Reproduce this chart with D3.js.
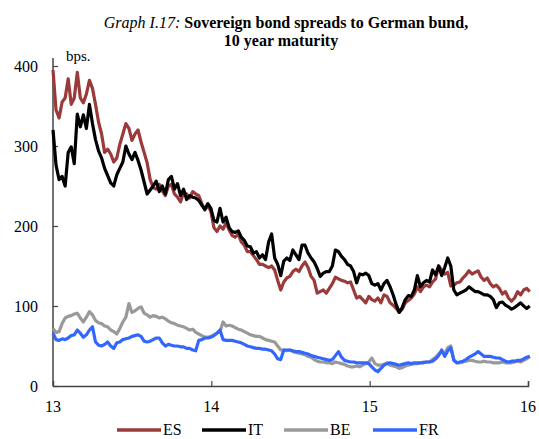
<!DOCTYPE html>
<html>
<head>
<meta charset="utf-8">
<script src="https://cdn.jsdelivr.net/npm/d3@7"></script>
<style>
    body { margin: 0; background: #fff; }
    svg { display: block; font-family: "Liberation Serif", "Times New Roman", serif; }
</style>
</head>
<body>
<div id="chart"></div>
<script>
// weekly observations, starting first week of 2013
const startDate = new Date(2013, 0, 1);

const seriesNames = ["ES", "IT", "BE", "FR"];
const seriesColors = ["#9b3a3a", "#000000", "#999999", "#3366ff"];

const esValues = [
    395, 345, 335, 355, 360, 384, 352, 360, 392, 360, 354, 365, 382, 372, 352, 330, 315, 292, 296, 290,
    280, 285, 302, 315, 328, 322, 307, 315, 320, 305, 292, 279, 258, 248, 246, 252, 244, 238, 250, 252,
    240, 236, 230, 242, 240, 235, 243, 240, 238, 228, 220, 226, 218, 198, 193, 200, 196, 204, 195, 188,
    186, 190, 180, 176, 168, 168, 163, 158, 152, 152, 150, 148, 150, 145, 132, 120, 130, 135, 137, 143,
    146, 143, 150, 155, 148, 137, 132, 116, 118, 120, 116, 122, 128, 136, 134, 132, 131, 129, 130, 120,
    110, 112, 108, 104, 112, 108, 106, 110, 104, 114, 112, 104, 101, 97, 92, 96, 104, 107, 110, 115,
    124, 118, 124, 126, 124, 130, 134, 150, 145, 140, 142, 125, 126, 129, 130, 135, 139, 144, 140, 142,
    144, 136, 132, 135, 128, 124, 126, 122, 115, 118, 110, 106, 110, 118, 114, 120, 122, 118
];

const itValues = [
    320, 276, 258, 262, 250, 292, 299, 278, 340, 324, 339, 322, 352, 328, 308, 294, 285, 272, 263, 254,
    250, 264, 272, 280, 300, 290, 283, 292, 282, 270, 255, 240, 245, 250, 256, 243, 250, 240, 258, 262,
    246, 253, 238, 246, 233, 238, 236, 235, 232, 226, 221, 228, 222, 207, 205, 222, 205, 211, 198, 193,
    192, 194, 186, 182, 175, 174, 166, 168, 160, 164, 158, 180, 190, 160, 152, 138, 156, 160, 157, 170,
    164, 158, 176, 176, 166, 160, 155, 147, 137, 141, 143, 143, 150, 170, 168, 162, 158, 152, 150, 143,
    129, 140, 139, 141, 138, 128, 126, 128, 120, 128, 132, 124, 114, 102, 92, 98, 108, 113, 112, 120,
    138, 124, 129, 132, 130, 145, 139, 150, 138, 148, 160, 150, 120, 114, 116, 118, 120, 124, 121, 118,
    118, 116, 114, 114, 112, 108, 98, 104, 105, 101, 99, 96, 98, 101, 104, 100, 97, 100
];

const beValues = [
    72, 67, 68, 78, 85, 87, 88, 90, 91, 85, 80, 86, 93, 89, 82, 79, 78, 75, 74, 70,
    68, 65, 72, 80, 86, 103, 92, 94, 97, 99, 91, 89, 86, 88, 87, 85, 86, 84, 81, 79,
    78, 76, 75, 74, 72, 70, 71, 67, 65, 63, 61, 61, 62, 64, 66, 68, 80, 75, 76, 75,
    73, 71, 70, 68, 66, 64, 63, 62, 62, 60, 58, 57, 56, 55, 50, 45, 45, 44, 45, 43,
    42, 41, 40, 39, 37, 36, 33, 31, 30, 30, 29, 29, 28, 30, 29, 28, 27, 25, 24, 24,
    25, 24, 26, 28, 30, 35, 28, 26, 26, 27, 29, 26, 25, 24, 22, 23, 25, 26, 27, 28,
    28, 29, 30, 30, 30, 33, 36, 40, 43, 40, 48, 50, 33, 29, 29, 30, 31, 32, 32, 31,
    30, 30, 31, 30, 30, 29, 29, 29, 30, 29, 29, 29, 30, 31, 30, 32, 34, 37
];

const frValues = [
    66, 58, 57, 59, 58, 60, 63, 64, 70, 66, 61, 64, 70, 74, 55, 51, 50, 52, 55, 50,
    47, 54, 55, 58, 59, 60, 62, 63, 64, 62, 56, 55, 56, 58, 60, 60, 54, 50, 52, 51,
    50, 50, 49, 49, 47, 47, 45, 44, 57, 58, 60, 60, 61, 63, 66, 70, 58, 57, 57, 57,
    56, 55, 54, 52, 50, 49, 48, 47, 47, 46, 46, 45, 44, 40, 34, 33, 45, 45, 45, 44,
    43, 43, 42, 41, 40, 38, 37, 36, 35, 34, 33, 32, 33, 38, 43, 36, 32, 31, 30, 30,
    29, 29, 29, 29, 28, 24, 20, 18, 22, 26, 28, 29, 28, 27, 26, 27, 28, 29, 28, 29,
    29, 29, 29, 30, 30, 31, 34, 38, 45, 37, 44, 48, 32, 29, 30, 31, 33, 36, 38, 40,
    43, 40, 37, 37, 37, 36, 35, 35, 33, 31, 30, 31, 31, 32, 32, 34, 36, 37
];

const yTicks = [0, 100, 200, 300, 400];
const xTickYears = [2013, 2014, 2015, 2016];
const xTickLabels = ["13", "14", "15", "16"];

drawChart();

function drawChart() {
    const width = 539;
    const height = 439;
    const margin = { left: 53, right: 11, top: 66, bottom: 53 };

    const allValues = [esValues, itValues, beValues, frValues];
    const dates = esValues.map((v, i) => d3.timeDay.offset(startDate, i * 7));

    const series = seriesNames.map((name, k) => ({
        name: name,
        color: seriesColors[k],
        points: allValues[k].map((v, i) => ({ date: dates[i], value: v }))
    }));

    const x = d3.scaleTime()
        .domain([new Date(2013, 0, 1), new Date(2016, 0, 1)])
        .range([margin.left, width - margin.right]);

    const y = d3.scaleLinear()
        .domain([0, 400])
        .range([height - margin.bottom, margin.top]);

    const svg = d3.select("#chart").append("svg")
        .attr("width", width)
        .attr("height", height);

    // title, two lines
    const title = svg.append("text")
        .attr("x", 286)
        .attr("y", 28)
        .attr("text-anchor", "middle")
        .style("font-size", "16px")
        .attr("fill", "#000");
    title.append("tspan").style("font-style", "italic").text("Graph I.17: ");
    title.append("tspan").style("font-weight", "bold").text("Sovereign bond spreads to German bund,");

    svg.append("text")
        .attr("x", 281)
        .attr("y", 46)
        .attr("text-anchor", "middle")
        .style("font-size", "16px")
        .style("font-weight", "bold")
        .text("10 year maturity");

    svg.append("text")
        .attr("x", margin.left + 13)
        .attr("y", 61)
        .style("font-size", "15px")
        .text("bps.");

    // y axis
    const yAxis = svg.append("g")
        .attr("transform", `translate(${margin.left},0)`)
        .call(d3.axisRight(y).tickValues(yTicks).tickSize(5).tickFormat(""));
    yAxis.select(".domain").remove();
    yAxis.selectAll("line").attr("stroke", "#444").attr("stroke-width", 1.2);

    svg.append("line")
        .attr("x1", margin.left).attr("x2", margin.left)
        .attr("y1", y(0)).attr("y2", 58)
        .attr("stroke", "#444")
        .attr("stroke-width", 1.5);

    svg.append("g").selectAll("text")
        .data(yTicks)
        .join("text")
        .attr("x", margin.left - 15)
        .attr("y", d => y(d) + 6)
        .attr("text-anchor", "end")
        .style("font-size", "16px")
        .text(d => d);

    // x axis
    const xTickDates = xTickYears.map(yr => new Date(yr, 0, 1));
    const xAxis = svg.append("g")
        .attr("transform", `translate(0,${y(0)})`)
        .call(d3.axisTop(x).tickValues(xTickDates.slice(1)).tickSize(5).tickFormat(""));
    xAxis.select(".domain").attr("stroke", "#444").attr("stroke-width", 1.5);
    xAxis.selectAll("line").attr("stroke", "#444").attr("stroke-width", 1.2);

    svg.append("g").selectAll("text")
        .data(xTickDates)
        .join("text")
        .attr("x", d => x(d))
        .attr("y", 412)
        .attr("text-anchor", "middle")
        .style("font-size", "16px")
        .text((d, i) => xTickLabels[i]);

    const line = d3.line()
        .x(d => x(d.date))
        .y(d => y(d.value))
        .curve(d3.curveLinear);

    svg.append("g")
        .attr("fill", "none")
        .attr("stroke-width", 3.2)
        .attr("stroke-linejoin", "round")
        .selectAll("path")
        .data(series)
        .join("path")
        .attr("stroke", d => d.color)
        .attr("d", d => line(d.points));

    // legend
    const legendX = [117, 202, 284, 373];
    const legend = svg.append("g")
        .selectAll("g")
        .data(series)
        .join("g")
        .attr("transform", (d, i) => `translate(${legendX[i]},430)`);

    legend.append("line")
        .attr("x1", 0).attr("x2", 44)
        .attr("stroke", d => d.color)
        .attr("stroke-width", 3.5);

    legend.append("text")
        .attr("x", 46)
        .attr("y", 5)
        .style("font-size", "16px")
        .text(d => d.name);
}
</script>
</body>
</html>
